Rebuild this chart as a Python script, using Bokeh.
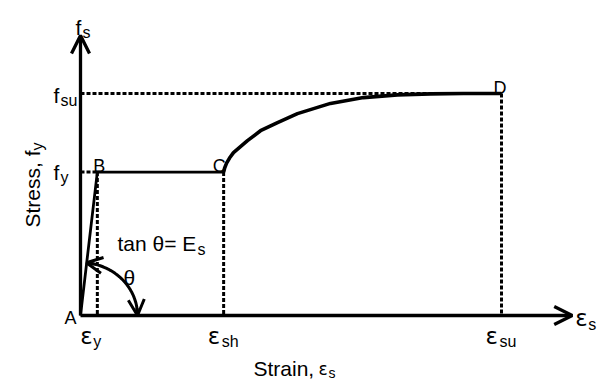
import numpy as np
from bokeh.plotting import figure
from bokeh.models import Range1d, Arrow, OpenHead
from bokeh.core.properties import value
from bokeh.embed import file_html
from bokeh.resources import INLINE

# ---------------- data (strain in %, stress in MPa) ----------------
eps_y, eps_sh, eps_su = 0.2, 1.7, 5.0
f_y, f_su = 420, 650
hard_strain = [1.70, 1.712, 1.735, 1.770, 1.817, 1.983, 2.138, 2.340, 2.577, 2.969, 3.361, 3.765, 4.157, 4.549, 5.0]
hard_stress = [420, 432, 446, 461, 477, 512, 541, 565, 591, 621, 638, 646, 649, 650, 650]
axis_x_end, axis_y_end = 5.84, 820

# ---------------- layout ----------------
W, H = 598, 380
SX = 84.2            # px per % strain
SY = 222.0 / 650.0   # px per MPa
OX, OY = 80, 315     # origin position inside the canvas
FONT = "Liberation Sans"
EFONT = "DejaVu Sans"

p = figure(width=W, height=H, output_backend="svg", toolbar_location=None,
           x_range=Range1d(-OX / SX, (W - OX) / SX),
           y_range=Range1d(-(H - OY) / SY, OY / SY),
           x_axis_location=None, y_axis_location=None, min_border=0)
p.grid.visible = False
p.outline_line_color = None
p.background_fill_color = "white"

# axes with open arrow heads
p.add_layout(Arrow(x_start=0, y_start=0, x_end=axis_x_end, y_end=0, line_width=3.3,
                   end=OpenHead(size=18, line_width=3.3)))
p.add_layout(Arrow(x_start=0, y_start=0, x_end=0, y_end=axis_y_end, line_width=3.3,
                   end=OpenHead(size=18, line_width=3.3)))

# dashed guide lines
DASH = "4 2"
p.multi_line(xs=[[0, eps_su], [eps_su, eps_su], [eps_sh, eps_sh], [eps_y, eps_y], [0, eps_y]],
             ys=[[f_su, f_su], [f_su, 0], [f_y, 0], [f_y, 0], [f_y, f_y]],
             line_color="black", line_width=3, line_dash=DASH)

# stress-strain curve
p.line([0, eps_y, eps_sh], [0, f_y, f_y], line_color="black", line_width=2.8)
p.line(hard_strain, hard_stress, line_color="black", line_width=3.6, line_join="round")

# angle arc theta (ellipse in screen px around A)
RX, RY = 57, 53
t = np.linspace(0, np.radians(84), 60)
p.line(RX * np.cos(t) / SX, RY * np.sin(t) / SY, line_color="black", line_width=3)
for ta, tb in [(np.radians(76), np.radians(84)), (np.radians(8), 0.0)]:
    p.add_layout(Arrow(x_start=RX * np.cos(ta) / SX, y_start=RY * np.sin(ta) / SY,
                       x_end=RX * np.cos(tb) / SX, y_end=RY * np.sin(tb) / SY,
                       line_width=3, end=OpenHead(size=16, line_width=3)))


def lab(txt, x, y, dx, dy, size, angle=0.0, font=FONT):
    p.text(x=[x], y=[y], text=[txt], x_offset=dx, y_offset=dy, angle=angle,
           text_font=value(font), text_font_size=f"{size}px", text_color="black",
           text_align="left", text_baseline="alphabetic")


MAIN, SUB, PT, EPS = 21, 16, 18, 23

# y axis labels
lab("f", 0, axis_y_end, -5, -8, MAIN)
lab("s", 0, axis_y_end, 2, -3, SUB)
lab("f", 0, f_su, -27, 2, MAIN)
lab("su", 0, f_su, -20, 7, SUB)
lab("f", 0, f_y, -27, 0, MAIN)
lab("y", 0, f_y, -20, 5, SUB)

# point labels
lab("A", 0, 0, -16, 2, PT)
lab("B", eps_y, f_y, -4, -6, PT)
lab("C", eps_sh, f_y, -11, -6, PT)
lab("D", eps_su, f_su, -8, -6, PT)

# x axis labels
lab("\u03b5", eps_y, 0, -17, 20, EPS, font=EFONT)
lab("y", eps_y, 0, -4, 26, SUB)
lab("\u03b5", eps_sh, 0, -16, 20, EPS, font=EFONT)
lab("sh", eps_sh, 0, -2, 26, SUB)
lab("\u03b5", eps_su, 0, -16, 20, EPS, font=EFONT)
lab("su", eps_su, 0, -2, 26, SUB)
lab("\u03b5", axis_x_end, 0, 3, 2, EPS, font=EFONT)
lab("s", axis_x_end, 0, 16, 9, SUB)

# theta annotations
lab("\u03b8", 0, 0, 43, -38, MAIN)
lab("tan \u03b8= E", 0, 0, 37, -72, MAIN)
lab("s", 0, 0, 117, -66, SUB)

# axis titles
lab("Strain, ", 0, 0, 173, 53, MAIN)
lab("\u03b5", 0, 0, 238, 53, 17, font=EFONT)
lab("s", 0, 0, 248, 57, 14)
lab("Stress, f", 0, 0, -48, -88, MAIN, angle=np.pi / 2)
lab("y", 0, 0, -43, -165, SUB, angle=np.pi / 2)

open("out.html", "w").write(file_html(p, INLINE))
